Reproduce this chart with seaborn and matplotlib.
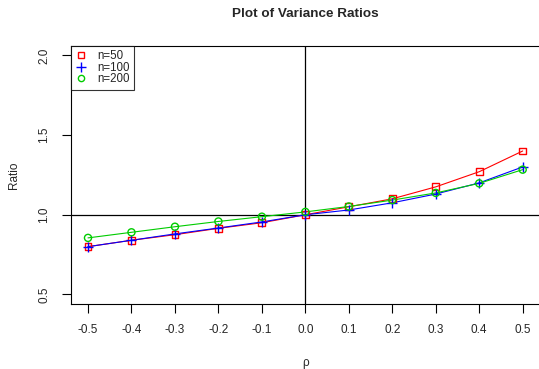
import pandas as pd
import matplotlib
matplotlib.use("Agg")
import matplotlib.pyplot as plt
from matplotlib.lines import Line2D
import seaborn as sns

# rho values and variance ratios
rho = [-0.5, -0.4, -0.3, -0.2, -0.1, 0.0, 0.1, 0.2, 0.3, 0.4, 0.5]
ratio_n50 = [0.80, 0.84, 0.875, 0.915, 0.95, 1.00, 1.05, 1.10, 1.175, 1.27, 1.40]
ratio_n100 = [0.80, 0.84, 0.88, 0.917, 0.955, 1.00, 1.03, 1.075, 1.13, 1.20, 1.30]
ratio_n200 = [0.855, 0.89, 0.925, 0.958, 0.988, 1.018, 1.052, 1.092, 1.137, 1.197, 1.283]
series = ["n=50", "n=100", "n=200"]

sns.set_style("white")
plt.rcParams["font.family"] = ["Liberation Sans", "DejaVu Sans"]

df = pd.DataFrame({
    "rho": rho * 3,
    "Ratio": ratio_n50 + ratio_n100 + ratio_n200,
    "n": [s for s in series for _ in rho],
})

colors = {"n=50": "#FF0000", "n=100": "#0000FF", "n=200": "#00CC00"}
markers = {"n=50": "s", "n=100": "+", "n=200": "o"}
sizes = {"n=50": 24, "n=100": 55, "n=200": 26}

fig = plt.figure(figsize=(5.39, 3.69), dpi=100)
ax = fig.add_axes([0.131, 0.176, 0.871, 0.700])

for s in series:
    sub = df[df["n"] == s]
    sns.lineplot(data=sub, x="rho", y="Ratio", ax=ax, color=colors[s], lw=0.8,
                 legend=False)
    sns.scatterplot(data=sub, x="rho", y="Ratio", ax=ax, marker=markers[s],
                    s=sizes[s],
                    facecolor="none" if s != "n=100" else colors[s],
                    edgecolor=colors[s], linewidth=1.0, zorder=3, legend=False)

ax.axhline(1.0, color="black", lw=0.9, zorder=1)
ax.axvline(0.0, color="black", lw=0.9, zorder=1)

ax.set_xlim(-0.54, 0.54)
ax.set_ylim(0.44, 2.06)
ax.set_xticks(rho)
ax.set_xticklabels([f"{v:.1f}" for v in rho])
ax.set_yticks([0.5, 1.0, 1.5, 2.0])
ax.set_yticklabels(["0.5", "1.0", "1.5", "2.0"], rotation=90, va="center")
ax.tick_params(axis="both", direction="out", length=6.5, width=0.8,
               labelsize=8.5, pad=8, color="black", bottom=True, left=True)
for sp in ax.spines.values():
    sp.set_color("black")
    sp.set_linewidth(0.8)

ax.set_xlabel("\u03c1", fontsize=8.5, labelpad=15)
ax.set_ylabel("Ratio", fontsize=8.5, labelpad=13)
ax.set_title("Plot of Variance Ratios", fontsize=9.7, fontweight="bold", pad=21)

handles = [
    Line2D([], [], ls="none", marker="s", mfc="none", mec=colors["n=50"], ms=4.5, mew=1.0),
    Line2D([], [], ls="none", marker="+", color=colors["n=100"], ms=7, mew=1.0),
    Line2D([], [], ls="none", marker="o", mfc="none", mec=colors["n=200"], ms=4.5, mew=1.0),
]
leg = ax.legend(handles, series, loc="upper left", fontsize=8.3, frameon=True,
                fancybox=False, edgecolor="black", borderaxespad=0.0,
                handlelength=1.0, handletextpad=0.9, labelspacing=-0.05,
                borderpad=0.4)
leg.get_frame().set_linewidth(0.8)

fig.savefig("out.png", dpi=100)
